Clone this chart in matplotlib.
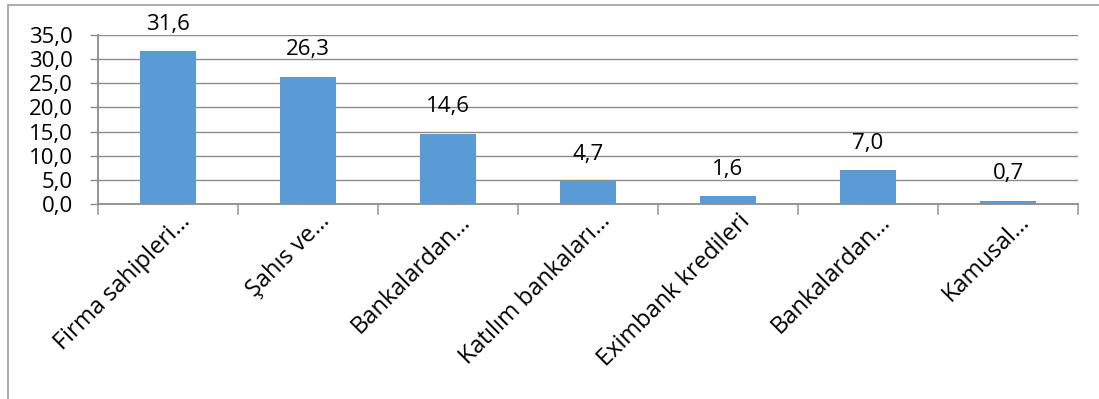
import matplotlib

matplotlib.use("Agg")
import matplotlib.pyplot as plt
import matplotlib.transforms as mtransforms
from matplotlib.patches import Rectangle
from matplotlib.ticker import FixedLocator, FuncFormatter

categories = [
    "Firma sahipleri…",
    "Şahıs ve…",
    "Bankalardan…",
    "Katılım bankaları…",
    "Eximbank kredileri",
    "Bankalardan…",
    "Kamusal…",
]
values = [31.6, 26.3, 14.6, 4.7, 1.6, 7.0, 0.7]
y_ticks = [0, 5, 10, 15, 20, 25, 30, 35]

plt.rcParams["font.family"] = ["Open Sans", "DejaVu Sans"]

fig = plt.figure(figsize=(10.99, 3.99), dpi=100)
fig.patch.set_facecolor("white")

# Marco exterior del gráfico (sale fuera de la imagen por la derecha y abajo).
fig.patches.append(
    Rectangle((8 / 1099, -0.1), 1.2, 1 - 5 / 399 + 0.1, transform=fig.transFigure,
              fill=False, edgecolor="#a6a6a6", linewidth=1.3, zorder=0)
)

ax = fig.add_axes([98 / 1099, 1 - 204 / 399, 980 / 1099, 169 / 399])
grid_color = "#8c8c8c"

x = range(len(values))
bars = ax.bar(x, values, width=0.4, color="#5b9bd5", zorder=3)

ax.set_xlim(-0.5, len(values) - 0.5)
ax.set_ylim(0, 35)
ax.yaxis.set_major_locator(FixedLocator(y_ticks))
ax.yaxis.set_major_formatter(FuncFormatter(lambda v, _: f"{v:.1f}".replace(".", ",")))
ax.grid(axis="y", color=grid_color, linewidth=1.0, zorder=0)

for s in ["top", "right"]:
    ax.spines[s].set_visible(False)
for s in ["left", "bottom"]:
    ax.spines[s].set_color(grid_color)
    ax.spines[s].set_linewidth(1.3)

ax.tick_params(axis="y", length=6, width=1.0, color=grid_color, labelsize=16, pad=12)

# Marcas en los límites de categoría, etiquetas en el centro.
ax.set_xticks([i - 0.5 for i in range(len(values) + 1)], minor=False)
ax.set_xticklabels([])
ax.tick_params(axis="x", which="major", length=8, width=1.3, color="#a6a6a6")
ax.set_xticks(list(x), minor=True)
ax.set_xticklabels(categories, minor=True, rotation=45, ha="right", va="top",
                   rotation_mode="anchor", fontsize=17)
ax.tick_params(axis="x", which="minor", length=0, pad=4)
shift = mtransforms.ScaledTranslation(10 / 100, 0, fig.dpi_scale_trans)
for lbl in ax.xaxis.get_minorticklabels():
    lbl.set_transform(lbl.get_transform() + shift)

for b, v in zip(bars, values):
    ax.annotate(f"{v:.1f}".replace(".", ","), (b.get_x() + b.get_width() / 2, v),
                xytext=(0, 12), textcoords="offset points",
                ha="center", va="bottom", fontsize=16, zorder=4)

fig.savefig("out.png", dpi=100, facecolor="white")
